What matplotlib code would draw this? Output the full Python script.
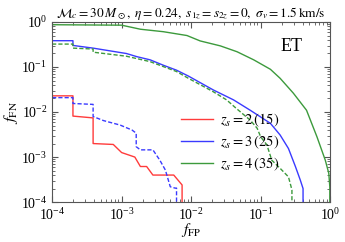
"""
ET 下 f_FN 与 f_FP 的关系曲线复现
"""

import numpy as np
import matplotlib

matplotlib.use("Agg")
import matplotlib.pyplot as plt

plt.rcParams["font.family"] = "serif"
plt.rcParams["font.serif"] = ["Liberation Serif", "DejaVu Serif"]
plt.rcParams["mathtext.fontset"] = "stix"

# 各曲线的 (log10 f_FP, log10 f_FN) 读数
red_x = [-4.0, -3.7, -3.7, -3.41, -3.41, -3.12, -3.0, -2.81, -2.73, -2.64, -2.55, -2.25, -2.13, -2.13]
red_y = [-1.64, -1.64, -2.09, -2.13, -2.70, -2.72, -2.90, -3.0, -3.21, -3.21, -3.4, -3.4, -3.62, -4.2]

bdash_x = [-4.0, -3.7, -3.7, -3.41, -3.41, -3.26, -3.02, -2.85, -2.79, -2.79, -2.73, -2.55, -2.45, -2.37, -2.30, -2.23, -2.21, -2.21]
bdash_y = [-1.68, -1.68, -1.81, -1.83, -2.10, -2.19, -2.29, -2.40, -2.47, -2.77, -2.84, -2.84, -3.07, -3.29, -3.66, -3.69, -3.69, -4.2]

blue_x = [-4.0, -3.7, -3.7, -3.41, -2.93, -2.78, -2.59, -2.40, -2.21, -2.04, -1.68, -1.39, -1.15, -0.86, -0.72, -0.60, -0.50, -0.43, -0.39, -0.39]
blue_y = [-0.415, -0.415, -0.52, -0.58, -0.70, -0.77, -0.84, -0.96, -1.07, -1.2, -1.51, -1.73, -1.96, -2.25, -2.51, -2.81, -3.21, -3.51, -3.70, -4.2]

gdash_x = [-4.0, -3.7, -3.7, -3.41, -3.41, -2.93, -2.59, -2.40, -2.21, -2.04, -1.68, -1.49, -1.35, -1.15, -1.05, -1.0, -0.91, -0.84, -0.72, -0.60, -0.55, -0.55]
gdash_y = [-0.49, -0.49, -0.58, -0.60, -0.67, -0.76, -0.88, -0.99, -1.10, -1.25, -1.55, -1.73, -1.92, -2.18, -2.36, -2.55, -2.73, -3.07, -3.25, -3.44, -3.73, -4.2]

green_x = [-4.0, -3.0, -2.73, -2.40, -2.06, -1.87, -1.58, -1.34, -1.10, -0.86, -0.72, -0.53, -0.34, -0.19, -0.07, -0.02, -0.005, -0.005]
green_y = [-0.06, -0.07, -0.16, -0.215, -0.30, -0.42, -0.53, -0.66, -0.84, -1.05, -1.25, -1.58, -1.96, -2.55, -3.07, -3.36, -3.66, -4.2]

labels = [r"$z_s=2\,(15)$", r"$z_s=3\,(25)$", r"$z_s=4\,(35)$"]
c_red, c_blue, c_green = "#ff3b3b", "#3a3aff", "#3c9a3c"

fig = plt.figure(figsize=(3.45, 2.42), dpi=100)
ax = fig.add_axes([0.151, 0.165, 0.806, 0.744])

p = lambda v: 10.0 ** np.array(v)
ax.plot(p(red_x), p(red_y), color=c_red, lw=1.0, label=labels[0])
ax.plot(p(blue_x), p(blue_y), color=c_blue, lw=1.0, label=labels[1])
ax.plot(p(green_x), p(green_y), color=c_green, lw=1.0, label=labels[2])
ax.plot(p(bdash_x), p(bdash_y), color=c_blue, lw=1.0, ls=(0, (3, 1.5)))
ax.plot(p(gdash_x), p(gdash_y), color=c_green, lw=1.0, ls=(0, (3, 1.5)))

ax.set_xscale("log")
ax.set_yscale("log")
ax.set_xlim(1e-4, 1)
ax.set_ylim(1e-4, 1)
ax.tick_params(which="both", direction="in", top=True, right=True, labelsize=10, color="#555555")
ax.tick_params(which="major", length=4)
ax.tick_params(which="minor", length=2)
ax.tick_params(axis="x", pad=3.5)
for s in ax.spines.values():
    s.set_color("#555555")

ax.set_xlabel(r"$f_{\rm FP}$", fontsize=11, labelpad=-1)
ax.set_ylabel(r"$f_{\rm FN}$", fontsize=11.5, labelpad=1)
ax.set_title(r"$\mathcal{M}_c=30\,M_\odot,\ \eta=0.24,\ s_{1z}=s_{2z}=0,\ \sigma_v=1.5\,\mathrm{km/s}$",
             fontsize=9.6, pad=3)
ax.text(0.862, 0.863, "ET", transform=ax.transAxes, fontsize=13, ha="center", va="center")

ax.legend(loc="lower left", bbox_to_anchor=(0.415, 0.09), frameon=False, fontsize=10.5,
          handlelength=2.2, handletextpad=0.5, labelspacing=0.3)

fig.savefig("out.png", dpi=100)
